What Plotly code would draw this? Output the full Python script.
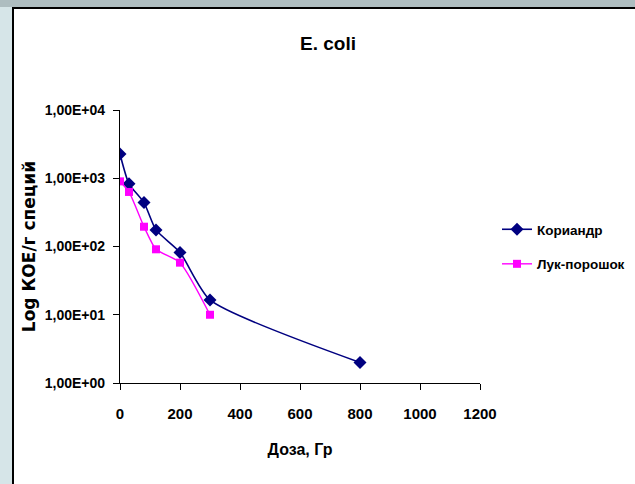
import plotly.graph_objects as go

# Data
dose_koriander = [0, 30, 80, 120, 200, 300, 800]
cfu_koriander = [2270, 830, 440, 175, 82, 16.5, 2.0]
dose_luk = [0, 30, 80, 120, 200, 300]
cfu_luk = [900, 630, 195, 91, 58, 10]

y_tickvals = [1, 10, 100, 1000, 10000]
y_ticktext = ["1,00E+00", "1,00E+01", "1,00E+02", "1,00E+03", "1,00E+04"]
x_tickvals = [0, 200, 400, 600, 800, 1000, 1200]

NARROW = "Liberation Sans Narrow, Arial Narrow, Liberation Sans, Arial, sans-serif"
WIDE = "DejaVu Sans, Verdana, sans-serif"

W, H = 635, 484
L, R, T, B = 120, 155, 110, 101
PW, PH = W - L - R, H - T - B


def px_x(p):
    return (p - L) / PW


def px_y(p):
    return (H - B - p) / PH


fig = go.Figure()
fig.add_trace(go.Scatter(
    x=dose_koriander, y=cfu_koriander, name="<b>Кориандр</b>", mode="lines+markers",
    line=dict(color="#000080", width=1.6, shape="spline", smoothing=0.6),
    marker=dict(symbol="diamond", size=10, color="#000080"),
    legendgroup="a",
))
fig.add_trace(go.Scatter(
    x=dose_luk, y=cfu_luk, name="<b>Лук-порошок</b>", mode="lines+markers",
    line=dict(color="#FF00FF", width=1.4, shape="spline", smoothing=0.6),
    marker=dict(symbol="square", size=8, color="#FF00FF"),
    legendgroup="b",
))

shapes = [
    dict(type="rect", xref="paper", yref="paper", layer="below",
         x0=px_x(-5), x1=px_x(W + 5), y0=px_y(7), y1=px_y(-5),
         fillcolor="#aebdc0", line=dict(width=0)),
    dict(type="rect", xref="paper", yref="paper", layer="below",
         x0=px_x(13), x1=px_x(W + 20), y0=px_y(H + 20), y1=px_y(8),
         fillcolor="white", line=dict(color="black", width=2)),
]

fig.update_layout(
    width=W, height=H,
    margin=dict(l=L, r=R, t=T, b=B, autoexpand=False),
    paper_bgcolor="#d6e5e8",
    plot_bgcolor="white",
    shapes=shapes,
    title=dict(text="<b>E. coli</b>", x=328 / W, xref="container", xanchor="center",
               y=1 - 43 / H, yref="container", yanchor="middle",
               font=dict(family=NARROW, size=19, color="black")),
    showlegend=True,
    legend=dict(x=497 / W, y=1 - 247 / H, xref="container", yref="container",
                xanchor="left", yanchor="middle",
                font=dict(family=NARROW, size=13.5, color="black"),
                tracegroupgap=14, traceorder="grouped",
                bgcolor="rgba(0,0,0,0)"),
    xaxis=dict(
        range=[0, 1200], tickvals=x_tickvals, ticktext=[f"<b>{v}</b>" for v in x_tickvals],
        ticks="outside", ticklen=6,
        tickcolor="black", showline=True, linecolor="black", linewidth=1.2,
        showgrid=False, zeroline=False, ticklabelstandoff=11,
        tickfont=dict(family=NARROW, size=15, color="black"),
        title=dict(text="<b>Доза, Гр</b>", standoff=22,
                   font=dict(family=NARROW, size=16, color="black")),
    ),
    yaxis=dict(
        type="log", range=[0, 4], tickvals=y_tickvals, ticktext=[f"<b>{t}</b>" for t in y_ticktext],
        ticks="outside", ticklen=6, tickcolor="black", showline=True,
        linecolor="black", linewidth=1.2, showgrid=False, zeroline=False,
        ticklabelstandoff=5,
        tickfont=dict(family=NARROW, size=14, color="black"),
        title=dict(text="<b>Log КОЕ/г специй</b>", standoff=4,
                   font=dict(family=WIDE, size=17, color="black")),
    ),
)

fig.write_html("out.html")
